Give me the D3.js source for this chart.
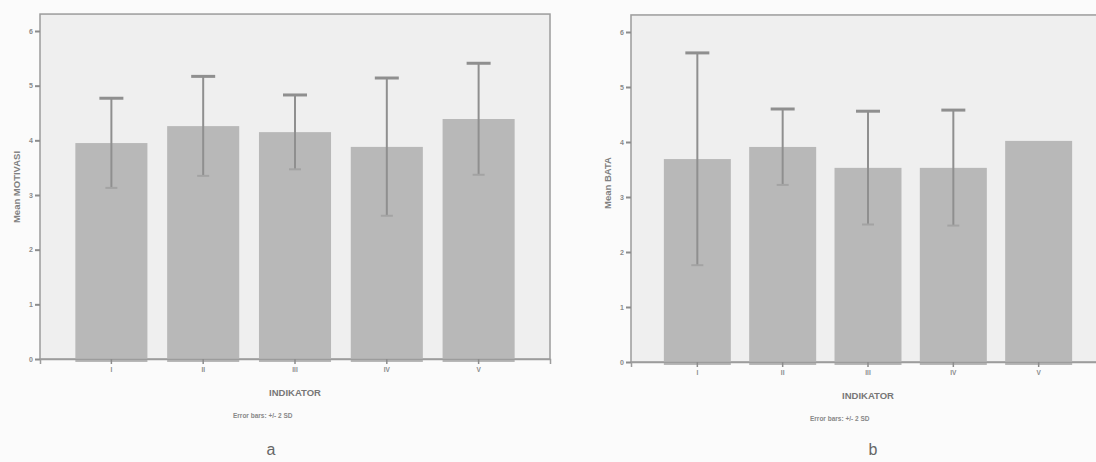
<!DOCTYPE html>
<html><head><meta charset="utf-8">
<script src="https://cdn.jsdelivr.net/npm/d3@7"></script>
<style>
html,body{margin:0;padding:0;background:#fbfbfb;}
svg{display:block;font-family:"Liberation Sans",Arial,sans-serif;}
</style></head>
<body>
<svg id="c" width="1096" height="462"></svg>
<script>
// ---- data ----
const categories = ["I", "II", "III", "IV", "V"];
const yTicks = [0, 1, 2, 3, 4, 5, 6];
const meanA = [3.95, 4.26, 4.15, 3.88, 4.39];
const err2sdA = [0.82, 0.91, 0.68, 1.26, 1.02];
const meanB = [3.69, 3.91, 3.53, 3.53, 4.02];
const err2sdB = [1.93, 0.69, 1.03, 1.05, 0];
const xTitle = "INDIKATOR";
const footnote = "Error bars: +/- 2 SD";
const yTitleA = "Mean MOTIVASI";
const yTitleB = "Mean BATA";
const panelLabels = ["a", "b"];

const svg = d3.select("#c");

function panel(cfg) {
  const g = svg.append("g");
  const x = d3.scaleBand().domain(categories).range([cfg.left, cfg.right])
    .paddingInner(0.215).paddingOuter(0.385);
  const y = d3.scaleLinear().domain([0, 6]).range([cfg.bottom, cfg.top6]);
  const yTop = y(6.31);

  // plot area
  g.append("rect").attr("x", cfg.left).attr("y", yTop)
    .attr("width", cfg.right - cfg.left).attr("height", cfg.bottom - yTop)
    .attr("fill", "#efefef")
    .attr("stroke", "#9c9c9c").attr("stroke-width", 1.5);

  // bars
  g.selectAll("rect.bar").data(cfg.means).join("rect").attr("class", "bar")
    .attr("x", (d, i) => x(categories[i]))
    .attr("y", d => y(d))
    .attr("width", x.bandwidth())
    .attr("height", d => y(0) - y(d) + 3)
    .attr("fill", "#b8b8b8");

  // error bars
  const eb = g.append("g").attr("stroke", "#8f8f8f").attr("stroke-width", 2);
  cfg.means.forEach((m, i) => {
    const e = cfg.errs[i];
    if (e <= 0) return;
    const cx = x(categories[i]) + x.bandwidth() / 2;
    eb.append("line").attr("x1", cx).attr("x2", cx).attr("y1", y(m + e)).attr("y2", y(m - e));
    eb.append("line").attr("x1", cx - 12).attr("x2", cx + 12).attr("y1", y(m + e)).attr("y2", y(m + e)).attr("stroke-width", 3);
    eb.append("line").attr("x1", cx - 6).attr("x2", cx + 6).attr("y1", y(m - e)).attr("y2", y(m - e)).attr("stroke", "#a3a3a3");
  });

  // y axis
  const ya = g.append("g").attr("transform", `translate(${cfg.left},0)`)
    .call(d3.axisLeft(y).tickValues(yTicks).tickSize(5).tickPadding(2).tickFormat(d3.format("d")));
  ya.select(".domain").remove();
  ya.selectAll("line").attr("stroke", "#8c8c8c").attr("stroke-width", 2);
  ya.selectAll("text").attr("font-size", 7).attr("font-weight", "bold").attr("fill", "#8a8a8a");

  // x axis
  const xa = g.append("g").attr("transform", `translate(0,${cfg.bottom})`)
    .call(d3.axisBottom(x).tickSize(5).tickPadding(3));
  xa.select(".domain").attr("stroke", "#9c9c9c").attr("stroke-width", 1.5);
  xa.selectAll("line").attr("stroke", "#8c8c8c").attr("stroke-width", 1.5);
  xa.selectAll("text").attr("font-size", 6.5).attr("font-weight", "bold").attr("fill", "#8a8a8a");

  const mid = (cfg.left + cfg.right) / 2;
  g.append("text").attr("x", mid).attr("y", cfg.bottom + 37).attr("text-anchor", "middle")
    .attr("font-size", 9.5).attr("font-weight", "bold").attr("fill", "#777").text(xTitle);
  g.append("text").attr("x", cfg.footX).attr("y", cfg.bottom + 59)
    .attr("font-size", 6.5).attr("font-weight", "bold").attr("fill", "#888").text(footnote);
  g.append("text").attr("transform", `translate(${cfg.left - 20},${cfg.yTitleY}) rotate(-90)`)
    .attr("text-anchor", "middle").attr("font-size", 9.5).attr("font-weight", "bold")
    .attr("fill", "#808080").text(cfg.yTitle);
  g.append("text").attr("x", cfg.labelX).attr("y", 455).attr("text-anchor", "middle")
    .attr("font-size", 16).attr("fill", "#666").text(cfg.label);
}

panel({left: 40, right: 550, bottom: 359, top6: 31, means: meanA, errs: err2sdA,
       footX: 233, yTitle: yTitleA, yTitleY: 187, labelX: 271, label: panelLabels[0]});
panel({left: 631, right: 1105, bottom: 362, top6: 32, means: meanB, errs: err2sdB,
       footX: 810, yTitle: yTitleB, yTitleY: 183, labelX: 873, label: panelLabels[1]});
</script>
</body></html>
